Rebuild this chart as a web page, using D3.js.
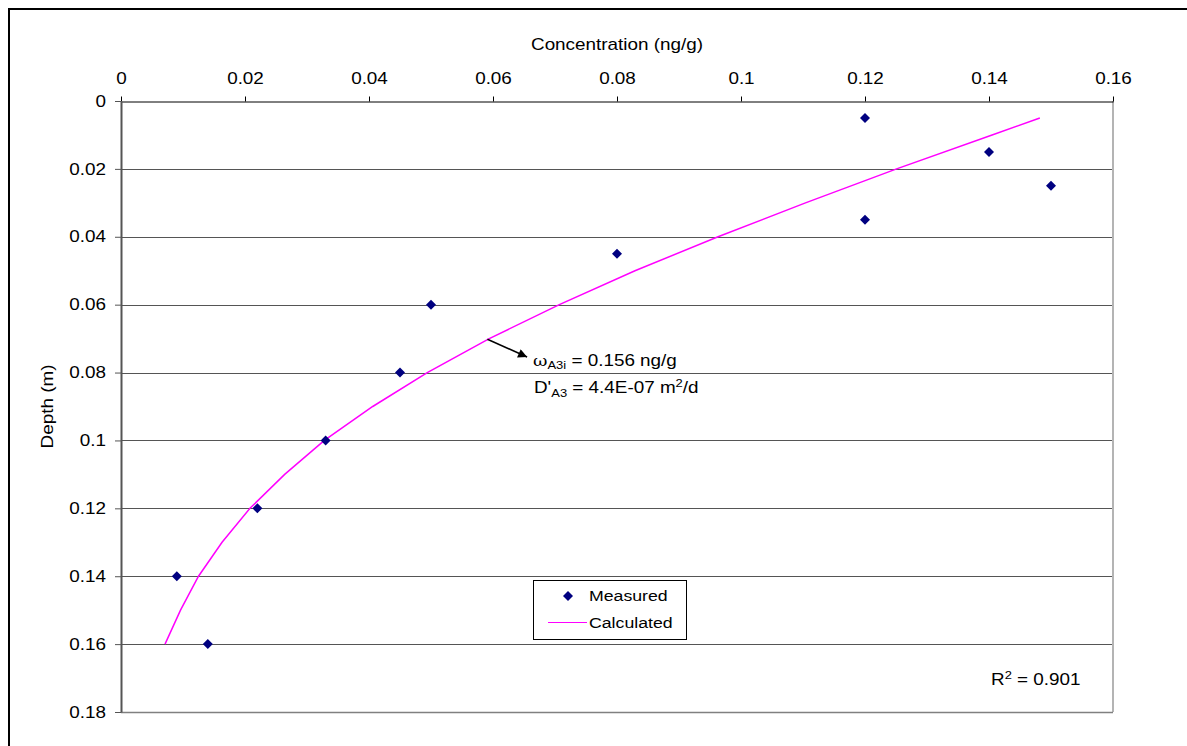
<!DOCTYPE html>
<html>
<head>
<meta charset="utf-8">
<script src="https://cdn.jsdelivr.net/npm/d3@7"></script>
<style>
  html, body { margin: 0; padding: 0; background: #fff; }
  svg { display: block; }
  text { font-family: "Liberation Sans", Arial, sans-serif; fill: #000; }
</style>
</head>
<body>
<svg id="chart" width="1187" height="746"></svg>
<script>
// ---- data ----
const xTicks = [0, 0.02, 0.04, 0.06, 0.08, 0.1, 0.12, 0.14, 0.16];
const yTicks = [0, 0.02, 0.04, 0.06, 0.08, 0.1, 0.12, 0.14, 0.16, 0.18];
const measuredConc  = [0.12, 0.14, 0.15, 0.12, 0.08, 0.05, 0.045, 0.033, 0.022, 0.009, 0.014];
const measuredDepth = [0.005, 0.015, 0.025, 0.035, 0.045, 0.06, 0.08, 0.1, 0.12, 0.14, 0.16];
const calcDepth = [0.005, 0.01, 0.02, 0.03, 0.04, 0.05, 0.06, 0.07, 0.08, 0.09, 0.1, 0.11, 0.12, 0.13, 0.14, 0.15, 0.16];
const calcConc  = [0.1482, 0.1405, 0.1251, 0.1104, 0.0963, 0.0829, 0.0707, 0.0594, 0.0494, 0.0406, 0.0328, 0.0264, 0.0208, 0.0163, 0.0125, 0.0096, 0.0071];
const arrowFrom = [0.0591, 0.0702];
const arrowTo   = [0.0655, 0.0754];

// ---- layout ----
const SX = 1.18; // horizontal stretch of the text
const plotL = 121, plotR = 1113, plotT = 101, plotB = 712;
const svg = d3.select("#chart");
const x = d3.scaleLinear().domain([0, 0.16]).range([plotL, plotR]);
const y = d3.scaleLinear().domain([0, 0.18]).range([plotT, plotB]);

// outer frame
svg.append("rect").attr("x", 9).attr("y", 9).attr("width", 1300).attr("height", 900)
  .attr("fill", "none").attr("stroke", "#000").attr("stroke-width", 2);

// gridlines
svg.append("g").selectAll("line").data(yTicks.filter(d => d > 0 && d < 0.18)).join("line")
  .attr("x1", plotL).attr("x2", plotR)
  .attr("y1", d => Math.round(y(d)) + 0.5).attr("y2", d => Math.round(y(d)) + 0.5)
  .attr("stroke", "#555").attr("stroke-width", 1);

// plot border right & bottom
svg.append("line").attr("x1", plotR).attr("x2", plotR).attr("y1", plotT).attr("y2", plotB)
  .attr("stroke", "#b4b4b4").attr("stroke-width", 2);
svg.append("line").attr("x1", plotL).attr("x2", plotR).attr("y1", Math.round(y(0.18)) + 0.5).attr("y2", Math.round(y(0.18)) + 0.5)
  .attr("stroke", "#808080").attr("stroke-width", 1.5);

// top axis
const fmt = d => String(+d.toFixed(3));
const xAxis = d3.axisTop(x).tickValues(xTicks).tickFormat(fmt).tickSize(5).tickSizeOuter(0).tickPadding(13);
const gx = svg.append("g").attr("transform", `translate(0,${plotT + 0.5})`).call(xAxis);
gx.select(".domain").attr("stroke", "#000");
gx.selectAll(".tick line").attr("stroke", "#000");
gx.selectAll(".tick text").attr("font-size", 16).attr("font-family", "Liberation Sans, Arial, sans-serif")
  .attr("transform", `scale(${SX},1)`);

// left axis
const yAxis = d3.axisLeft(y).tickValues(yTicks).tickFormat(fmt).tickSize(6).tickSizeOuter(0);
const gy = svg.append("g").attr("transform", `translate(${plotL},0)`).call(yAxis);
gy.select(".domain").attr("stroke", "#555").attr("stroke-width", 2);
gy.selectAll(".tick line").attr("stroke", "#555");
gy.selectAll(".tick text").attr("font-size", 16).attr("font-family", "Liberation Sans, Arial, sans-serif")
  .attr("x", -15 / SX).attr("transform", `scale(${SX},1)`);

// axis titles
svg.append("g").attr("transform", `translate(${(plotL + plotR) / 2},50)`)
  .append("text").attr("text-anchor", "middle").attr("font-size", 16)
  .attr("transform", `scale(${SX},1)`).text("Concentration (ng/g)");
svg.append("g").attr("transform", `translate(53,${(plotT + plotB) / 2}) rotate(-90)`)
  .append("text").attr("text-anchor", "middle").attr("font-size", 16)
  .attr("transform", `scale(${SX},1)`).text("Depth (m)");

// calculated line
const line = d3.line().x(d => x(d[0])).y(d => y(d[1]));
svg.append("path").datum(calcConc.map((c, i) => [c, calcDepth[i]]))
  .attr("d", line).attr("fill", "none").attr("stroke", "#ff00ff").attr("stroke-width", 1.5);

// measured points
const diamond = "M0,-5L5,0L0,5L-5,0Z";
svg.append("g").selectAll("path").data(measuredConc.map((c, i) => [c, measuredDepth[i]])).join("path")
  .attr("d", diamond).attr("fill", "#000080")
  .attr("transform", d => `translate(${x(d[0])},${y(d[1])})`);

// annotation arrow
svg.append("defs").append("marker").attr("id", "ah").attr("viewBox", "0 0 10 10")
  .attr("refX", 10).attr("refY", 5).attr("markerWidth", 12).attr("markerHeight", 9)
  .attr("markerUnits", "userSpaceOnUse").attr("orient", "auto")
  .append("path").attr("d", "M0,0L10,5L0,10Z").attr("fill", "#000");
svg.append("line").attr("x1", x(arrowFrom[0])).attr("y1", y(arrowFrom[1]))
  .attr("x2", x(arrowTo[0])).attr("y2", y(arrowTo[1]))
  .attr("stroke", "#000").attr("stroke-width", 1.5).attr("marker-end", "url(#ah)");

// annotation text
const a1 = svg.append("g").attr("transform", "translate(533,366)").append("text")
  .attr("font-size", 16).attr("transform", `scale(${SX},1)`);
a1.append("tspan").attr("font-family", "DejaVu Serif, serif").attr("font-size", 15).text("ω");
a1.append("tspan").attr("font-size", 11).attr("dy", 3).text("A3i");
a1.append("tspan").attr("dy", -3).text(" = 0.156 ng/g");
const a2 = svg.append("g").attr("transform", "translate(534,393)").append("text")
  .attr("font-size", 16).attr("transform", `scale(${SX},1)`);
a2.append("tspan").text("D'");
a2.append("tspan").attr("font-size", 11).attr("dy", 4).text("A3");
a2.append("tspan").attr("dy", -4).text(" = 4.4E-07 m");
a2.append("tspan").attr("font-size", 11).attr("dy", -6).text("2");
a2.append("tspan").attr("dy", 6).text("/d");

// legend
const lg = svg.append("g");
lg.append("rect").attr("x", 533.5).attr("y", 580.5).attr("width", 153).attr("height", 59)
  .attr("fill", "#fff").attr("stroke", "#000").attr("stroke-width", 1);
lg.append("path").attr("d", diamond).attr("fill", "#000080").attr("transform", "translate(568,596)");
lg.append("line").attr("x1", 548).attr("x2", 587).attr("y1", 622.5).attr("y2", 622.5)
  .attr("stroke", "#ff00ff").attr("stroke-width", 1.2);
lg.append("g").attr("transform", "translate(589,601)").append("text").attr("font-size", 15)
  .attr("transform", `scale(${SX},1)`).text("Measured");
lg.append("g").attr("transform", "translate(589,628)").append("text").attr("font-size", 15)
  .attr("transform", `scale(${SX},1)`).text("Calculated");

// R^2
const r2 = svg.append("g").attr("transform", "translate(991,685)").append("text")
  .attr("font-size", 16).attr("transform", `scale(${SX},1)`);
r2.append("tspan").text("R");
r2.append("tspan").attr("font-size", 11).attr("dy", -6).text("2");
r2.append("tspan").attr("dy", 6).text(" = 0.901");
</script>
</body>
</html>
